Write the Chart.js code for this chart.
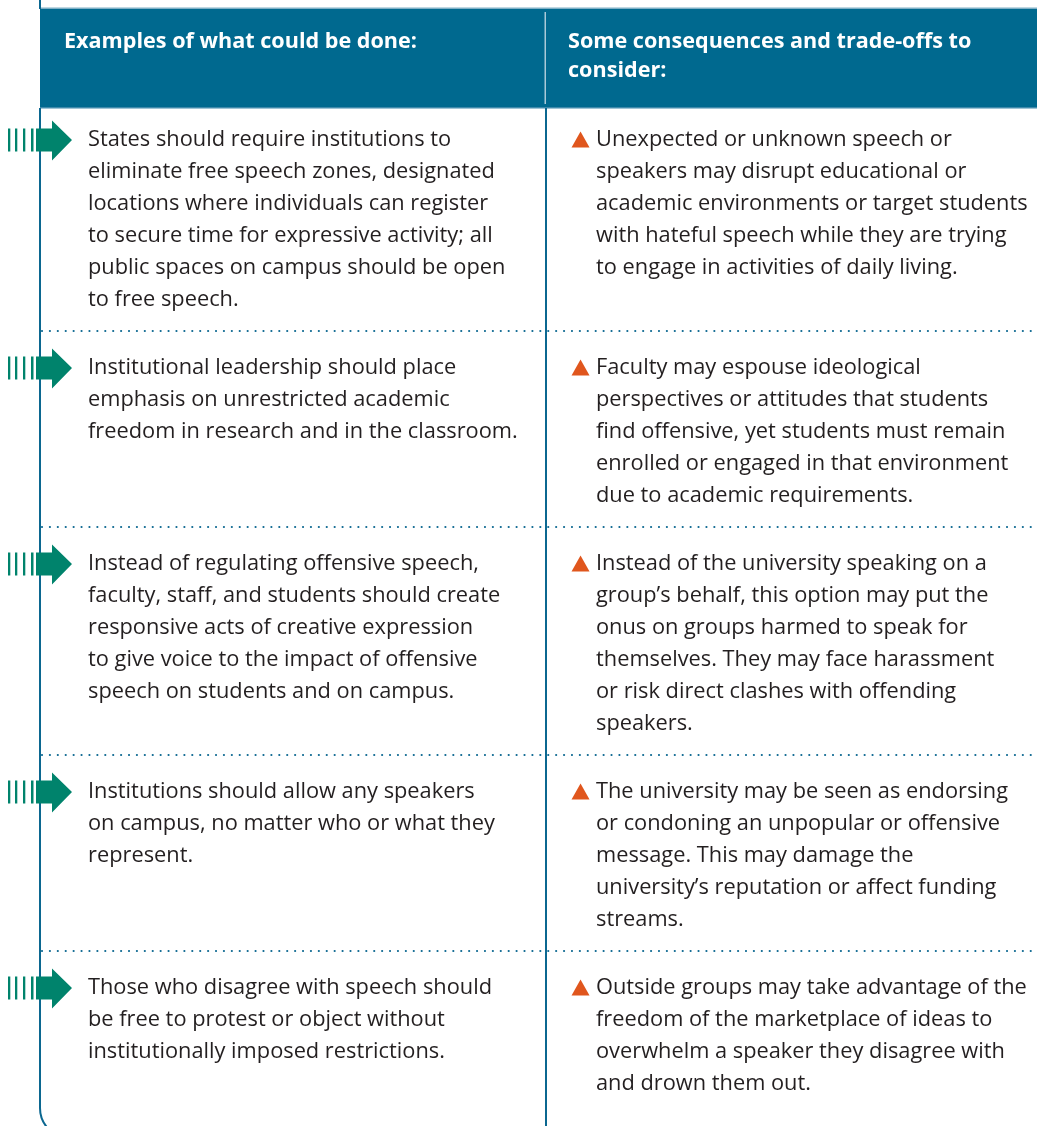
<!DOCTYPE html>
<html>
<head>
<meta charset="utf-8">
<script src="https://cdn.jsdelivr.net/npm/chart.js@4.4.0/dist/chart.umd.min.js"></script>
<style>
  html, body { margin: 0; padding: 0; background: #fff; }
  #wrap { width: 1037px; height: 1126px; }
</style>
</head>
<body>
<div id="wrap"><canvas id="chart"></canvas></div>
<script>
// column headers
var headers = [
    ["Examples of what could be done:"],
    ["Some consequences and trade-offs to", "consider:"]
];

// left column, one entry per row, lines as wrapped in the original
var actions = [
    ["States should require institutions to", "eliminate free speech zones, designated", "locations where individuals can register", "to secure time for expressive activity; all", "public spaces on campus should be open", "to free speech."],
    ["Institutional leadership should place", "emphasis on unrestricted academic", "freedom in research and in the classroom."],
    ["Instead of regulating offensive speech,", "faculty, staff, and students should create", "responsive acts of creative expression", "to give voice to the impact of offensive", "speech on students and on campus."],
    ["Institutions should allow any speakers", "on campus, no matter who or what they", "represent."],
    ["Those who disagree with speech should", "be free to protest or object without", "institutionally imposed restrictions."]
];

// right column
var tradeoffs = [
    ["Unexpected or unknown speech or", "speakers may disrupt educational or", "academic environments or target students", "with hateful speech while they are trying", "to engage in activities of daily living."],
    ["Faculty may espouse ideological", "perspectives or attitudes that students", "find offensive, yet students must remain", "enrolled or engaged in that environment", "due to academic requirements."],
    ["Instead of the university speaking on a", "group\u2019s behalf, this option may put the", "onus on groups harmed to speak for", "themselves. They may face harassment", "or risk direct clashes with offending", "speakers."],
    ["The university may be seen as endorsing", "or condoning an unpopular or offensive", "message. This may damage the", "university\u2019s reputation or affect funding", "streams."],
    ["Outside groups may take advantage of the", "freedom of the marketplace of ideas to", "overwhelm a speaker they disagree with", "and drown them out."]
];

var BLUE = "#00698f";
var LINE = "#0b6790";
var GREEN = "#00836c";
var ORANGE = "#e0561d";
var TEXT = "#231f20";
var LH = 32;

var tablePlugin = {
    id: "table",
    afterDraw: function (c) {
        var ctx = c.ctx;
        var sx = c.scales.x, sy = c.scales.y;
        var X = function (v) { return sx.getPixelForValue(v); };
        var Y = function (v) { return sy.getPixelForValue(v); };
        var left = X(40), mid = X(546), right = X(1037);

        ctx.save();
        // header band
        ctx.fillStyle = "#7fb0c6";
        ctx.fillRect(left, Y(7.5), right - left, 1.5);
        ctx.fillStyle = BLUE;
        ctx.fillRect(left, Y(9), right - left, Y(107) - Y(9));
        ctx.fillStyle = "#3f8aab";
        ctx.fillRect(left, Y(107), right - left, 1.5);
        ctx.fillStyle = "#a9c9d8";
        ctx.fillRect(mid - 1.5, Y(12), 1.5, Y(104) - Y(12));

        ctx.fillStyle = "#ffffff";
        ctx.font = "bold 21.6px 'Open Sans'";
        ctx.textBaseline = "middle";
        headers[0].forEach(function (t, i) { ctx.fillText(t, X(64), Y(42 + i * 29)); });
        headers[1].forEach(function (t, i) { ctx.fillText(t, X(568), Y(42 + i * 29)); });

        // left border with rounded bottom corner, and middle divider
        ctx.strokeStyle = LINE;
        ctx.lineWidth = 2;
        ctx.beginPath();
        ctx.moveTo(left, 0);
        ctx.lineTo(left, Y(9));
        ctx.moveTo(left, Y(108));
        ctx.lineTo(left, Y(1108));
        ctx.arcTo(left, Y(1138), left + 30, Y(1138), 30);
        ctx.lineTo(right, Y(1138));
        ctx.stroke();
        ctx.beginPath();
        ctx.moveTo(mid, Y(108));
        ctx.lineTo(mid, Y(1126));
        ctx.stroke();

        // rows
        var top = 103;
        ctx.font = "21.8px 'Open Sans'";
        for (var r = 0; r < actions.length; r++) {
            var n = Math.max(actions[r].length, tradeoffs[r].length);
            var first = top + 37;

            ctx.fillStyle = TEXT;
            actions[r].forEach(function (t, i) { ctx.fillText(t, X(88), Y(first + i * LH)); });
            tradeoffs[r].forEach(function (t, i) { ctx.fillText(t, X(596), Y(first + i * LH)); });

            // arrow marker
            var cy = Y(first);
            ctx.fillStyle = GREEN;
            [8, 15, 23].forEach(function (x) { ctx.fillRect(X(x), cy - 11.5, 2.3, 23); });
            ctx.fillRect(X(31), cy - 11.5, 2.5, 23);
            ctx.beginPath();
            ctx.moveTo(X(36), cy - 11.5);
            ctx.lineTo(X(52), cy - 11.5);
            ctx.lineTo(X(52), cy - 19.5);
            ctx.lineTo(X(72), cy);
            ctx.lineTo(X(52), cy + 20.5);
            ctx.lineTo(X(52), cy + 11.5);
            ctx.lineTo(X(36), cy + 11.5);
            ctx.closePath();
            ctx.fill();

            // triangle marker
            ctx.fillStyle = ORANGE;
            ctx.beginPath();
            ctx.moveTo(X(580.5), cy - 8.5);
            ctx.lineTo(X(589.5), cy + 7.5);
            ctx.lineTo(X(571.5), cy + 7.5);
            ctx.closePath();
            ctx.fill();

            top = top + n * LH + 36;
            if (r < actions.length - 1) {
                ctx.strokeStyle = LINE;
                ctx.lineWidth = 2.2;
                ctx.lineCap = "round";
                ctx.setLineDash([0.01, 7.9]);
                ctx.beginPath();
                ctx.moveTo(X(42), Y(top));
                ctx.lineTo(right, Y(top));
                ctx.stroke();
                ctx.setLineDash([]);
                ctx.lineCap = "butt";
            }
        }
        ctx.restore();
    }
};

var chart = new Chart(document.getElementById("chart"), {
    type: "scatter",
    data: { datasets: [{ data: [] }] },
    options: {
        responsive: true,
        maintainAspectRatio: false,
        animation: false,
        layout: { padding: 0 },
        plugins: { legend: { display: false }, tooltip: { enabled: false } },
        scales: {
            x: { display: false, min: 0, max: 1037 },
            y: { display: false, min: 0, max: 1126, reverse: true }
        }
    },
    plugins: [tablePlugin]
});
</script>
</body>
</html>
